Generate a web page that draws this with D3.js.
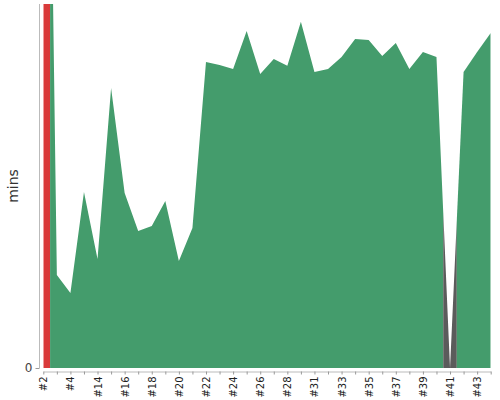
<!DOCTYPE html>
<html>
<head>
<meta charset="utf-8">
<script src="https://cdn.jsdelivr.net/npm/d3@7"></script>
<style>
  body { margin: 0; background: #fff; }
  text { font-family: "DejaVu Sans", sans-serif; }
</style>
</head>
<body>
<div class="chart"></div>
<script>
// build numbers, durations (mins) and results
var builds = ["#2", "#3", "#4", "#13", "#14", "#15", "#16", "#17", "#18", "#19", "#20",
  "#21", "#22", "#23", "#24", "#25", "#26", "#27", "#28", "#30", "#31", "#32", "#33",
  "#34", "#35", "#36", "#37", "#38", "#39", "#40", "#41", "#42", "#43", "#44"];
var durations = [58.7, 5.11, 4.12, 9.67, 5.99, 15.38, 9.62, 7.53, 7.8, 9.18, 5.88,
  7.69, 16.81, 16.65, 16.43, 18.52, 16.15, 16.98, 16.61, 19.03, 16.26, 16.43, 17.09,
  18.08, 18.02, 17.14, 17.86, 16.43, 17.36, 17.09, 0, 16.26, 17.36, 18.41];
var results = ["FAILURE", "SUCCESS", "SUCCESS", "SUCCESS", "SUCCESS", "SUCCESS", "SUCCESS",
  "SUCCESS", "SUCCESS", "SUCCESS", "SUCCESS", "SUCCESS", "SUCCESS", "SUCCESS", "SUCCESS",
  "SUCCESS", "SUCCESS", "SUCCESS", "SUCCESS", "SUCCESS", "SUCCESS", "SUCCESS", "SUCCESS",
  "SUCCESS", "SUCCESS", "SUCCESS", "SUCCESS", "SUCCESS", "SUCCESS", "SUCCESS", "ABORTED",
  "SUCCESS", "SUCCESS", "SUCCESS"];
var yTicks = [0];
var yMax = 20;

var colors = {SUCCESS: "#449c6c", FAILURE: "#d93a3a", ABORTED: "#5b5b5b"};

var svgWidth = 500;
var svgHeight = 400;
var plot = {left: 43.3, right: 490.7, top: 4, bottom: 368};

var svg = d3.select(".chart")
  .append("svg")
  .attr("width", svgWidth)
  .attr("height", svgHeight);

var x = d3.scalePoint().domain(builds).range([plot.left, plot.right]);
var y = d3.scaleLinear().domain([0, yMax]).range([plot.bottom, plot.top]);

svg.append("clipPath").attr("id", "clip")
  .append("rect")
  .attr("x", plot.left)
  .attr("y", plot.top)
  .attr("width", plot.right - plot.left)
  .attr("height", plot.bottom - plot.top);

// each build owns the stretch from half way to the previous build to half way to the next;
// neighbouring builds with the same result are joined into one run
var runs = [];
builds.forEach(function(b, i) {
  var last = runs[runs.length - 1];
  if (!last || last.result !== results[i]) {
    last = {result: results[i], pts: []};
    if (i > 0) {
      last.pts.push({x: (x(builds[i - 1]) + x(b)) / 2, v: (durations[i - 1] + durations[i]) / 2});
    }
    runs.push(last);
  }
  last.pts.push({x: x(b), v: durations[i]});
  if (i < builds.length - 1 && results[i + 1] !== results[i]) {
    last.pts.push({x: (x(b) + x(builds[i + 1])) / 2, v: (durations[i] + durations[i + 1]) / 2});
  }
});

var area = d3.area()
  .x(function(d) { return d.x; })
  .y0(y(0))
  .y1(function(d) { return y(d.v); });

svg.append("g")
  .attr("clip-path", "url(#clip)")
  .selectAll("path")
  .data(runs)
  .enter()
  .append("path")
  .attr("d", function(d) { return area(d.pts); })
  .attr("fill", function(d) { return colors[d.result]; });

// y axis
var yAxis = svg.append("g")
  .attr("transform", "translate(39.5,0)")
  .call(d3.axisLeft(y).tickValues(yTicks).tickSize(4).tickPadding(3).tickSizeOuter(0));
yAxis.select(".domain").attr("stroke", "#bbb").attr("d", "M0," + plot.top + "V" + plot.bottom);
yAxis.selectAll(".tick line").attr("stroke", "#999");
yAxis.selectAll(".tick text").attr("font-size", 12).attr("fill", "#444")
  .style("font-family", "DejaVu Sans, sans-serif");

// x axis
var xAxis = svg.append("g")
  .attr("transform", "translate(0,371.5)")
  .call(d3.axisBottom(x).tickSize(3).tickSizeOuter(0)
    .tickFormat(function(d, i) { return i % 2 === 0 ? d : ""; }));
xAxis.select(".domain").attr("stroke", "#bbb");
xAxis.selectAll(".tick line").attr("stroke", "#999");
xAxis.selectAll(".tick text")
  .attr("font-size", 10)
  .attr("fill", "#222")
  .style("font-family", "DejaVu Sans, sans-serif")
  .attr("text-anchor", "end")
  .attr("dy", "0.35em")
  .attr("transform", "translate(0,5) rotate(-90)")
  .attr("x", 0)
  .attr("y", 0);

// axis title
svg.append("text")
  .attr("transform", "translate(18," + (plot.top + plot.bottom) / 2 + ") rotate(-90)")
  .attr("text-anchor", "middle")
  .attr("font-size", 14)
  .attr("fill", "#333")
  .text("mins");
</script>
</body>
</html>
